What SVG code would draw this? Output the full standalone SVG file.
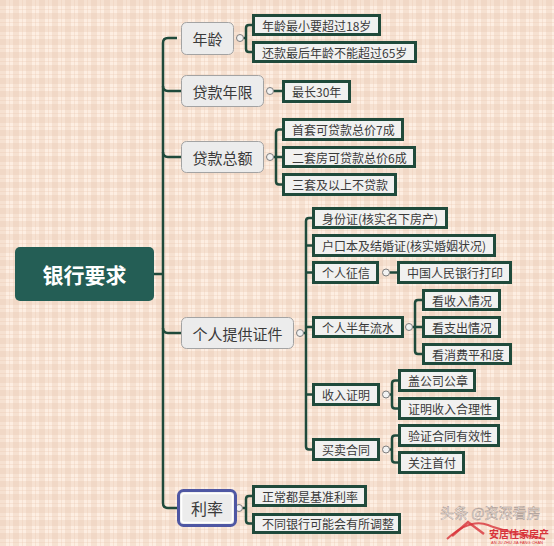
<svg xmlns="http://www.w3.org/2000/svg" width="554" height="546" viewBox="0 0 554 546">
<defs>
<pattern id="plaid" width="13" height="13" patternUnits="userSpaceOnUse">
<rect width="13" height="13" fill="#fdeee2"/>
<rect x="0" y="0" width="6" height="13" fill="#e8c9b2" opacity="0.35"/>
<rect x="0" y="0" width="13" height="6" fill="#e8c9b2" opacity="0.35"/>
<rect x="9" y="0" width="1" height="13" fill="#e8c9b2" opacity="0.3"/>
<rect x="0" y="9" width="13" height="1" fill="#e8c9b2" opacity="0.3"/>
</pattern>
</defs>
<style>
.l1 rect{fill:#ececec;stroke:#a3a3a3;stroke-width:1}
.l1 text{font-family:"Noto Sans CJK SC","Noto Sans",sans-serif;font-size:15px;fill:#3a3a3a;text-anchor:middle;dominant-baseline:central}
.l2 rect{fill:#f1f1f0;stroke:#1f4a3b;stroke-width:3}
.l2 text{font-family:"Noto Sans CJK SC","Noto Sans",sans-serif;font-size:12px;fill:#3a3a3a;dominant-baseline:central}
.conn path{fill:none;stroke:#1f4a3b;stroke-width:2.5}
.conn circle{fill:#f2f2f2;stroke:#7d7d7d;stroke-width:1}
</style>
<rect width="554" height="546" fill="url(#plaid)"/>

<g class="conn" id="connectors">
<path d="M154 274 H163"/>
<path d="M177 38 H168 Q163 38 163 43 V503 Q163 508 168 508 H177"/>
<path d="M163 86 Q163 91 168 91 H181"/>
<path d="M163 152 Q163 157 168 157 H181"/>
<path d="M163 328 Q163 333 168 333 H181"/>
<path d="M243.5 38 H246 M252 25 H249 Q246 25 246 28 V49 Q246 52 249 52 H252"/>
<path d="M273.5 91 H282"/>
<path d="M273.5 157 H282 M282 129.5 H279 Q276 129.5 276 132.5 V181.5 Q276 184.5 279 184.5 H282"/>
<path d="M303.5 333 H306 M312 218 H309 Q306 218 306 221 V446.5 Q306 449.5 309 449.5 H312 M306 245.5 H312 M306 272.5 H312 M306 327 H312 M306 394.5 H312"/>
<path d="M389.5 272.5 H397"/>
<path d="M412.5 327 H422 M422 300 H418 Q415 300 415 303 V351 Q415 354 418 354 H422"/>
<path d="M389.5 394.5 H392 M398 380.5 H395 Q392 380.5 392 383.5 V405.5 Q392 408.5 395 408.5 H398"/>
<path d="M389.5 449.5 H392 M398 435.5 H395 Q392 435.5 392 438.5 V459.5 Q392 462.5 395 462.5 H398"/>
<path d="M242.5 508 H246 M252 496 H249 Q246 496 246 499 V520.5 Q246 523.5 249 523.5 H252"/>
<circle cx="240" cy="38" r="3.5"/>
<circle cx="270" cy="91" r="3.5"/>
<circle cx="270" cy="157" r="3.5"/>
<circle cx="300" cy="333" r="3.5"/>
<circle cx="386" cy="272.5" r="3.5"/>
<circle cx="409" cy="327" r="3.5"/>
<circle cx="386" cy="394.5" r="3.5"/>
<circle cx="386" cy="449.5" r="3.5"/>
<circle cx="239" cy="508" r="3.5"/>
</g>

<g id="root">
<rect x="15" y="247" width="139" height="54" rx="5" fill="#245e55"/>
<text x="84.5" y="274" font-family="'Noto Sans CJK SC','Noto Sans',sans-serif" font-size="21" font-weight="bold" fill="#ffffff" text-anchor="middle" dominant-baseline="central">银行要求</text>
</g>

<g id="n-age" class="l1"><rect x="181.5" y="22.5" width="52" height="32" rx="5"/><text x="207.5" y="38.5">年龄</text></g>
<g id="n-term" class="l1"><rect x="181.5" y="75.5" width="82" height="31" rx="5"/><text x="222.5" y="91">贷款年限</text></g>
<g id="n-amount" class="l1"><rect x="181.5" y="141.5" width="82" height="31" rx="5"/><text x="222.5" y="157">贷款总额</text></g>
<g id="n-docs" class="l1"><rect x="181.5" y="317.5" width="112" height="31" rx="5"/><text x="237.5" y="333">个人提供证件</text></g>
<g id="n-rate" class="l1">
<rect x="178.5" y="490.5" width="57" height="35" rx="5" style="stroke:#4f57a3;stroke-width:3"/>
<rect x="181.5" y="493.5" width="51" height="29" rx="3" style="fill:none;stroke:#ffffff;stroke-width:1.5"/>
<text x="207" y="508" style="font-size:16px">利率</text>
</g>

<g id="a1" class="l2"><rect x="253.5" y="15.5" width="126" height="19"/><text x="262" y="25">年龄最小要超过18岁</text></g>
<g id="a2" class="l2"><rect x="253.5" y="42.5" width="162" height="19"/><text x="262" y="52">还款最后年龄不能超过65岁</text></g>
<g id="b1" class="l2"><rect x="283.5" y="81.5" width="66" height="20"/><text x="292" y="91.5">最长30年</text></g>
<g id="c1" class="l2"><rect x="283.5" y="119.5" width="119" height="20"/><text x="292" y="129.5">首套可贷款总价7成</text></g>
<g id="c2" class="l2"><rect x="283.5" y="147.5" width="131" height="19"/><text x="292" y="157">二套房可贷款总价6成</text></g>
<g id="c3" class="l2"><rect x="283.5" y="174.5" width="112" height="20"/><text x="292" y="184.5">三套及以上不贷款</text></g>
<g id="d1" class="l2"><rect x="313.5" y="208.5" width="133" height="19"/><text x="322" y="218">身份证(核实名下房产)</text></g>
<g id="d2" class="l2"><rect x="313.5" y="235.5" width="181" height="20"/><text x="322" y="245.5">户口本及结婚证(核实婚姻状况)</text></g>
<g id="d3" class="l2"><rect x="313.5" y="262.5" width="64" height="20"/><text x="322" y="272.5">个人征信</text></g>
<g id="d3a" class="l2"><rect x="398.5" y="262.5" width="112" height="20"/><text x="407" y="272.5">中国人民银行打印</text></g>
<g id="d4" class="l2"><rect x="313.5" y="317.5" width="89" height="19"/><text x="322" y="327">个人半年流水</text></g>
<g id="d4a" class="l2"><rect x="423.5" y="290.5" width="76" height="19"/><text x="432" y="300">看收入情况</text></g>
<g id="d4b" class="l2"><rect x="423.5" y="317.5" width="76" height="19"/><text x="432" y="327">看支出情况</text></g>
<g id="d4c" class="l2"><rect x="423.5" y="344.5" width="87" height="19"/><text x="432" y="354">看消费平和度</text></g>
<g id="d5" class="l2"><rect x="313.5" y="384.5" width="65" height="20"/><text x="322" y="394.5">收入证明</text></g>
<g id="d5a" class="l2"><rect x="399.5" y="370.5" width="75" height="20"/><text x="408" y="380.5">盖公司公章</text></g>
<g id="d5b" class="l2"><rect x="399.5" y="398.5" width="99" height="20"/><text x="408" y="408.5">证明收入合理性</text></g>
<g id="d6" class="l2"><rect x="313.5" y="439.5" width="65" height="20"/><text x="322" y="449.5">买卖合同</text></g>
<g id="d6a" class="l2"><rect x="399.5" y="425.5" width="99" height="20"/><text x="408" y="435.5">验证合同有效性</text></g>
<g id="d6b" class="l2"><rect x="399.5" y="452.5" width="64" height="20"/><text x="408" y="462.5">关注首付</text></g>
<g id="e1" class="l2"><rect x="253.5" y="486.5" width="112" height="19"/><text x="262" y="496">正常都是基准利率</text></g>
<g id="e2" class="l2"><rect x="253.5" y="514.5" width="146" height="18"/><text x="262" y="523.5">不同银行可能会有所调整</text></g>

<g id="watermark">
<path d="M447 539 Q470 518 488 525 Q505 532 545 539" fill="none" stroke="#d8333a" stroke-width="2" opacity="0.8"/>
<path d="M452 536 L468 522 L484 534" fill="none" stroke="#d8333a" stroke-width="2.5" opacity="0.8"/>
<text x="440" y="512" font-family="'Noto Sans CJK SC',sans-serif" font-size="14" fill="#ffffff" stroke="#9a8a84" stroke-width="0.5" opacity="0.85" dominant-baseline="central">头条 @资深看房</text>
<text x="489" y="533.5" font-family="'Noto Sans CJK SC',sans-serif" font-size="10" font-weight="bold" fill="#d8333a" dominant-baseline="central">安居住家房产</text>
<text x="491" y="542.5" font-family="'Liberation Sans',sans-serif" font-size="4" fill="#d8333a" dominant-baseline="central">AN JU ZHU JIA FANG CHAN</text>
</g>
</svg>
